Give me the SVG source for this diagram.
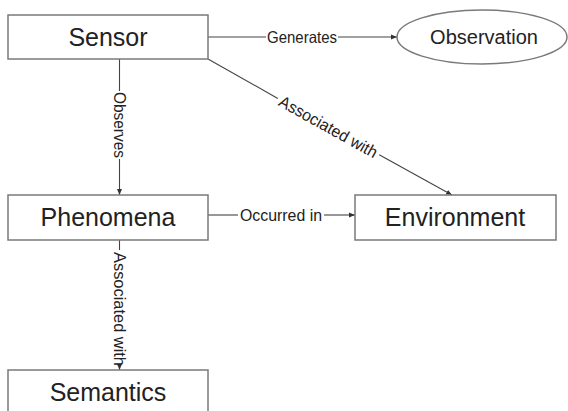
<svg xmlns="http://www.w3.org/2000/svg" width="568" height="411" viewBox="0 0 568 411">
  <defs>
    <marker id="arrow" viewBox="0 0 6 6" refX="6" refY="3" markerWidth="6" markerHeight="6" markerUnits="userSpaceOnUse" orient="auto">
      <path d="M0,0.5 L6,3 L0,5.5 Z" fill="#333"/>
    </marker>
    <style>
      .node { fill: #fff; stroke: #7a7a7a; stroke-width: 1.5; }
      .title { font-family: "Liberation Sans", Arial, sans-serif; font-size: 25px; fill: #222; text-anchor: middle; }
      .edge { fill: none; stroke: #444; stroke-width: 1.1; }
      .label { font-family: "Liberation Sans", Arial, sans-serif; font-size: 16.5px; fill: #222; text-anchor: middle; dominant-baseline: central; }
    </style>
  </defs>
  <rect width="568" height="411" fill="#fff"/>

  <!-- connectors -->
  <g id="connectors">
    <!-- Sensor -> Observation -->
    <line class="edge" x1="208" y1="37" x2="266" y2="37"/>
    <line class="edge" x1="338" y1="37" x2="397" y2="37" marker-end="url(#arrow)"/>
    <text class="label" x="302" y="37" textLength="70" lengthAdjust="spacingAndGlyphs">Generates</text>

    <!-- Sensor -> Phenomena -->
    <line class="edge" x1="119.5" y1="59" x2="119.5" y2="91"/>
    <line class="edge" x1="119.5" y1="159" x2="119.5" y2="195" marker-end="url(#arrow)"/>
    <text class="label" transform="translate(119.5,125) rotate(90)" textLength="66" lengthAdjust="spacingAndGlyphs">Observes</text>

    <!-- Sensor -> Environment -->
    <line class="edge" x1="208" y1="59" x2="277.8" y2="98.4"/>
    <line class="edge" x1="379.2" y1="154.8" x2="452" y2="195" marker-end="url(#arrow)"/>
    <text class="label" transform="translate(328.5,126.6) rotate(29.1)" textLength="110" lengthAdjust="spacingAndGlyphs">Associated with</text>

    <!-- Phenomena -> Environment -->
    <line class="edge" x1="208" y1="215" x2="238" y2="215"/>
    <line class="edge" x1="324" y1="215" x2="355" y2="215" marker-end="url(#arrow)"/>
    <text class="label" x="281" y="215" textLength="82" lengthAdjust="spacingAndGlyphs">Occurred in</text>

    <!-- Phenomena -> Semantics -->
    <line class="edge" x1="119.5" y1="240" x2="119.5" y2="250"/>
    <line class="edge" x1="119.5" y1="367" x2="119.5" y2="370" marker-end="url(#arrow)"/>
    <text class="label" transform="translate(119.5,309) rotate(90)" textLength="114" lengthAdjust="spacingAndGlyphs">Associated with</text>
  </g>

  <!-- nodes -->
  <g id="sensor">
    <rect class="node" x="8" y="15" width="200" height="44"/>
    <text class="title" x="108" y="46">Sensor</text>
  </g>
  <g id="observation">
    <ellipse class="node" cx="482" cy="37" rx="85" ry="27"/>
    <text class="title" x="484" y="44" style="font-size:20px">Observation</text>
  </g>
  <g id="phenomena">
    <rect class="node" x="8" y="195" width="200" height="45"/>
    <text class="title" x="108" y="226">Phenomena</text>
  </g>
  <g id="environment">
    <rect class="node" x="355" y="195" width="201" height="45"/>
    <text class="title" x="455" y="226">Environment</text>
  </g>
  <g id="semantics">
    <rect class="node" x="8" y="370" width="200" height="50"/>
    <text class="title" x="108" y="401">Semantics</text>
  </g>
</svg>
